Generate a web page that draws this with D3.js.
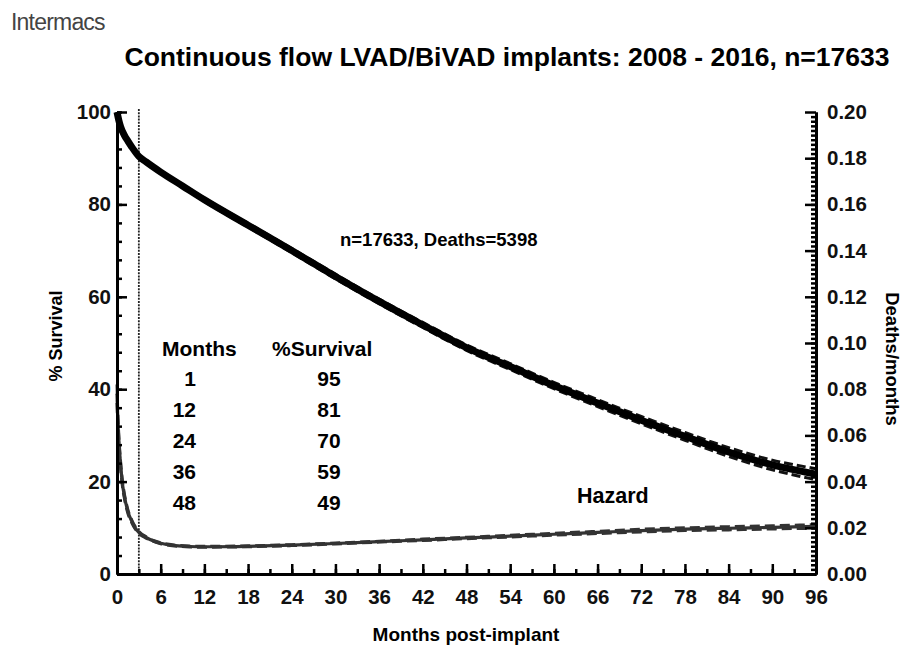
<!DOCTYPE html>
<html><head><meta charset="utf-8">
<script src="https://cdn.jsdelivr.net/npm/d3@7"></script>
<style>
body{margin:0;background:#fff;}
text{font-family:"Liberation Sans",Arial,Helvetica,sans-serif;}
</style></head>
<body><svg id="chart" width="906" height="647"></svg>
<script>
// ---- data ----
const survMonths = [0,0.25,0.5,1,1.5,2,3,4,6,9,12,18,24,30,36,42,48,54,60,66,72,78,84,90,96];
const survival   = [100,98.2,96.8,95,93.7,92.5,90.4,89.2,87,84,81,75.5,70,64.4,59,53.9,49,44.9,40.8,37,33.3,29.8,26.4,23.6,21.6];
const survCI     = [0,0.1,0.1,0.15,0.2,0.2,0.25,0.25,0.3,0.3,0.35,0.4,0.45,0.5,0.5,0.55,0.6,0.65,0.7,0.75,0.8,0.85,0.95,1.05,1.2];
const hazMonths  = [0,0.1,0.25,0.5,0.75,1,1.5,2,2.5,3,4,5,6,8,10,12,18,24,30,36,42,48,54,60,66,72,78,84,90,96];
const hazard     = [0.078,0.068,0.058,0.047,0.039,0.034,0.027,0.023,0.02,0.018,0.0158,0.0143,0.0133,0.0123,0.0119,0.0118,0.0120,0.0125,0.0132,0.0140,0.0148,0.0156,0.0164,0.0172,0.0180,0.0188,0.0194,0.0198,0.0202,0.0206];
const hazCI      = [0.004,0.003,0.002,0.0015,0.0012,0.001,0.0008,0.0006,0.0005,0.0004,0.0003,0.0002,0.0002,0.0002,0.0002,0.0002,0.0002,0.0002,0.0002,0.0002,0.0003,0.0003,0.0004,0.0004,0.0005,0.0006,0.0006,0.0007,0.0007,0.0008];
const xTicks = [0,6,12,18,24,30,36,42,48,54,60,66,72,78,84,90,96];
const yTicks = [0,20,40,60,80,100];
const rTicks = [0,0.02,0.04,0.06,0.08,0.10,0.12,0.14,0.16,0.18,0.20];
const tableMonths = ["1","12","24","36","48"];
const tableSurv   = ["95","81","70","59","49"];
const cutoffMonth = 3;

// ---- layout ----
const svg = d3.select("#chart");
const L = 117, R = 816, T = 112, B = 574;
const x = d3.scaleLinear().domain([0,96]).range([L,R]);
const y = d3.scaleLinear().domain([0,100]).range([B,T]);
const yr = d3.scaleLinear().domain([0,0.2]).range([B,T]);

// header
svg.append("text").attr("x",11).attr("y",30).attr("font-size",23).attr("fill","#444")
  .attr("letter-spacing","-0.8").text("Intermacs");
svg.append("text").attr("x",507).attr("y",66).attr("text-anchor","middle")
  .attr("font-size",26.5).attr("font-weight","bold").text("Continuous flow LVAD/BiVAD implants: 2008 - 2016, n=17633");

// vertical cutoff line
svg.append("line").attr("x1",x(cutoffMonth)).attr("x2",x(cutoffMonth)).attr("y1",T-3).attr("y2",B)
  .attr("stroke","#222").attr("stroke-width",1.8).attr("stroke-dasharray","2,1.2");

// curves
const survLine = d3.line().x((d,i)=>x(survMonths[i])).y(d=>y(d)).curve(d3.curveMonotoneX);
const hazLine = d3.line().x((d,i)=>x(hazMonths[i])).y(d=>yr(d)).curve(d3.curveMonotoneX);

svg.append("path").datum(survival.map((v,i)=>v+survCI[i])).attr("d",survLine)
  .attr("fill","none").attr("stroke","#111").attr("stroke-width",3).attr("stroke-dasharray","9,4");
svg.append("path").datum(survival.map((v,i)=>v-survCI[i])).attr("d",survLine)
  .attr("fill","none").attr("stroke","#111").attr("stroke-width",3).attr("stroke-dasharray","9,4");
svg.append("path").datum(survival).attr("d",survLine)
  .attr("fill","none").attr("stroke","#000").attr("stroke-width",7);

svg.append("path").datum(hazard.map((v,i)=>v+hazCI[i])).attr("d",hazLine)
  .attr("fill","none").attr("stroke","#333").attr("stroke-width",3).attr("stroke-dasharray","10,5");
svg.append("path").datum(hazard.map((v,i)=>v-hazCI[i])).attr("d",hazLine)
  .attr("fill","none").attr("stroke","#333").attr("stroke-width",3).attr("stroke-dasharray","10,5");
svg.append("path").datum(hazard).attr("d",hazLine)
  .attr("fill","none").attr("stroke","#333").attr("stroke-width",3.2);

// axes
function styleAxis(g){
  g.select(".domain").attr("stroke","#000").attr("stroke-width",3);
  g.selectAll(".tick line").attr("stroke","#000").attr("stroke-width",2.5);
  g.selectAll("text").attr("font-size",20.5).attr("font-weight","bold").attr("fill","#111")
    .attr("font-family","'Liberation Sans',Arial,sans-serif");
}
// minor ticks
svg.append("g").attr("transform",`translate(${L},0)`)
  .call(d3.axisLeft(y).tickValues(d3.range(0,101,4)).tickSizeInner(-5).tickSizeOuter(0).tickFormat(""))
  .call(styleAxis);
svg.append("g").attr("transform",`translate(0,${B})`)
  .call(d3.axisBottom(x).tickValues(d3.range(0,97,3)).tickSizeInner(-5).tickSizeOuter(0).tickFormat(""))
  .call(styleAxis);
svg.append("g").attr("transform",`translate(${R},0)`)
  .call(d3.axisRight(yr).tickValues(d3.range(0,100).map(i=>i*0.002).filter(v=>v<=0.2001)).tickSizeInner(-5).tickSizeOuter(0).tickFormat(""))
  .call(styleAxis);
// major ticks
svg.append("g").attr("transform",`translate(${L},0)`)
  .call(d3.axisLeft(y).tickValues(yTicks).tickSizeInner(-10).tickSizeOuter(0).tickPadding(6))
  .call(styleAxis);
svg.append("g").attr("transform",`translate(0,${B})`)
  .call(d3.axisBottom(x).tickValues(xTicks).tickSizeInner(-10).tickSizeOuter(0).tickPadding(15))
  .call(styleAxis);
svg.append("g").attr("transform",`translate(${R},0)`)
  .call(d3.axisRight(yr).tickValues(rTicks).tickSizeInner(-11).tickSizeOuter(0).tickPadding(11).tickFormat(d3.format(".2f")))
  .call(styleAxis);

// axis titles
svg.append("text").attr("x",466).attr("y",641).attr("text-anchor","middle")
  .attr("font-size",19).attr("font-weight","bold").text("Months post-implant");
svg.append("text").attr("transform","translate(62,336) rotate(-90)").attr("text-anchor","middle")
  .attr("font-size",18).attr("font-weight","bold").text("% Survival");
svg.append("text").attr("transform","translate(886,359) rotate(90)").attr("text-anchor","middle")
  .attr("font-size",18.5).attr("font-weight","bold").text("Deaths/months");

// annotations
svg.append("text").attr("x",340).attr("y",246)
  .attr("font-size",18.5).attr("font-weight","bold").text("n=17633, Deaths=5398");
svg.append("text").attr("x",577).attr("y",503)
  .attr("font-size",21.5).attr("font-weight","bold").text("Hazard");

// table
svg.append("text").attr("x",162).attr("y",356).attr("font-size",21).attr("font-weight","bold").text("Months");
svg.append("text").attr("x",272).attr("y",356).attr("font-size",21).attr("font-weight","bold").text("%Survival");
const rowY = [386,417,448,479,510];
tableMonths.forEach((m,i)=>{
  svg.append("text").attr("x",196).attr("y",rowY[i]).attr("text-anchor","end")
    .attr("font-size",21).attr("font-weight","bold").text(m);
  svg.append("text").attr("x",329).attr("y",rowY[i]).attr("text-anchor","middle")
    .attr("font-size",21).attr("font-weight","bold").text(tableSurv[i]);
});
</script></body></html>
